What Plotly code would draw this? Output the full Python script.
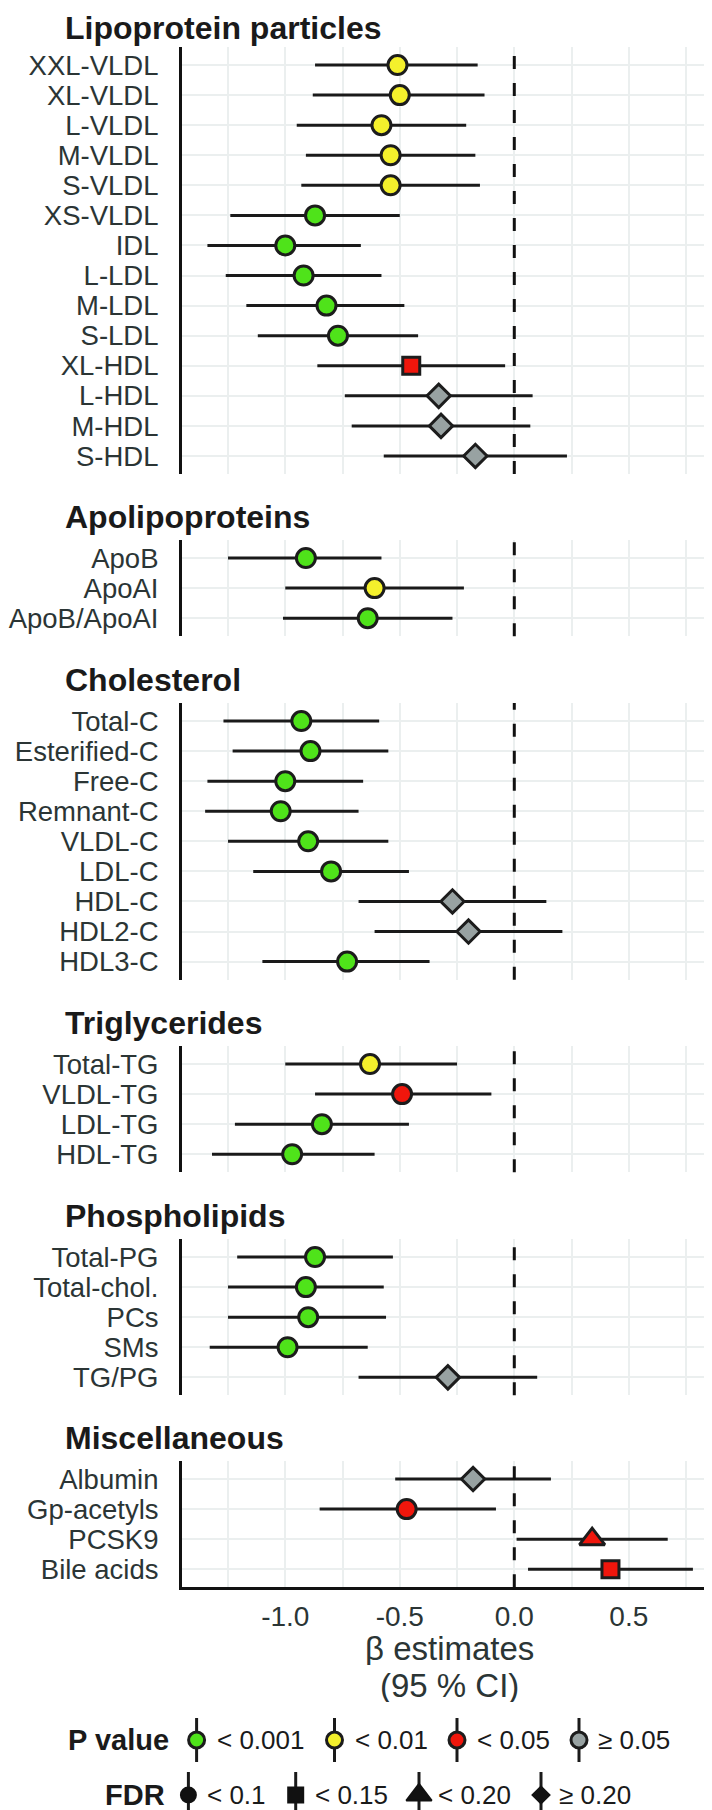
import plotly.graph_objects as go

W, H = 712, 1810

# ---------------- data ----------------
lipo_labels = ["XXL-VLDL", "XL-VLDL", "L-VLDL", "M-VLDL", "S-VLDL", "XS-VLDL", "IDL",
               "L-LDL", "M-LDL", "S-LDL", "XL-HDL", "L-HDL", "M-HDL", "S-HDL"]
lipo_beta = [-0.51, -0.50, -0.58, -0.54, -0.54, -0.87, -1.00, -0.92, -0.82, -0.77, -0.45, -0.33, -0.32, -0.17]
lipo_lo = [-0.87, -0.88, -0.95, -0.91, -0.93, -1.24, -1.34, -1.26, -1.17, -1.12, -0.86, -0.74, -0.71, -0.57]
lipo_hi = [-0.16, -0.13, -0.21, -0.17, -0.15, -0.50, -0.67, -0.58, -0.48, -0.42, -0.04, 0.08, 0.07, 0.23]
lipo_p = ["<0.01"] * 5 + ["<0.001"] * 5 + ["<0.05", ">=0.05", ">=0.05", ">=0.05"]
lipo_fdr = ["<0.1"] * 10 + ["<0.15", ">=0.20", ">=0.20", ">=0.20"]

apo_labels = ["ApoB", "ApoAI", "ApoB/ApoAI"]
apo_beta = [-0.91, -0.61, -0.64]
apo_lo = [-1.25, -1.00, -1.01]
apo_hi = [-0.58, -0.22, -0.27]
apo_p = ["<0.001", "<0.01", "<0.001"]
apo_fdr = ["<0.1", "<0.1", "<0.1"]

chol_labels = ["Total-C", "Esterified-C", "Free-C", "Remnant-C", "VLDL-C", "LDL-C",
               "HDL-C", "HDL2-C", "HDL3-C"]
chol_beta = [-0.93, -0.89, -1.00, -1.02, -0.90, -0.80, -0.27, -0.20, -0.73]
chol_lo = [-1.27, -1.23, -1.34, -1.35, -1.25, -1.14, -0.68, -0.61, -1.10]
chol_hi = [-0.59, -0.55, -0.66, -0.68, -0.55, -0.46, 0.14, 0.21, -0.37]
chol_p = ["<0.001"] * 6 + [">=0.05", ">=0.05", "<0.001"]
chol_fdr = ["<0.1"] * 6 + [">=0.20", ">=0.20", "<0.1"]

tg_labels = ["Total-TG", "VLDL-TG", "LDL-TG", "HDL-TG"]
tg_beta = [-0.63, -0.49, -0.84, -0.97]
tg_lo = [-1.00, -0.87, -1.22, -1.32]
tg_hi = [-0.25, -0.10, -0.46, -0.61]
tg_p = ["<0.01", "<0.05", "<0.001", "<0.001"]
tg_fdr = ["<0.1", "<0.1", "<0.1", "<0.1"]

pl_labels = ["Total-PG", "Total-chol.", "PCs", "SMs", "TG/PG"]
pl_beta = [-0.87, -0.91, -0.90, -0.99, -0.29]
pl_lo = [-1.21, -1.25, -1.25, -1.33, -0.68]
pl_hi = [-0.53, -0.57, -0.56, -0.64, 0.10]
pl_p = ["<0.001", "<0.001", "<0.001", "<0.001", ">=0.05"]
pl_fdr = ["<0.1", "<0.1", "<0.1", "<0.1", ">=0.20"]

misc_labels = ["Albumin", "Gp-acetyls", "PCSK9", "Bile acids"]
misc_beta = [-0.18, -0.47, 0.34, 0.42]
misc_lo = [-0.52, -0.85, 0.01, 0.06]
misc_hi = [0.16, -0.08, 0.67, 0.78]
misc_p = [">=0.05", "<0.05", "<0.05", "<0.05"]
misc_fdr = [">=0.20", "<0.1", "<0.20", "<0.15"]

panel_titles = ["Lipoprotein particles", "Apolipoproteins", "Cholesterol",
                "Triglycerides", "Phospholipids", "Miscellaneous"]

x_ticks = [-1.25, -1.0, -0.75, -0.5, -0.25, 0.0, 0.25, 0.5, 0.75]
x_tick_text = ["", "-1.0", "", "-0.5", "", "0.0", "", "0.5", ""]

p_levels = ["<0.001", "<0.01", "<0.05", ">=0.05"]
p_level_text = ["< 0.001", "< 0.01", "< 0.05", "≥ 0.05"]
fdr_levels = ["<0.1", "<0.15", "<0.20", ">=0.20"]
fdr_level_text = ["< 0.1", "< 0.15", "< 0.20", "≥ 0.20"]

# ---------------- styles ----------------
P_COLOR = {"<0.001": "#4fe31a", "<0.01": "#f4f02c", "<0.05": "#f0160c", ">=0.05": "#98a2a2"}
FDR_SYMBOL = {"<0.1": "circle", "<0.15": "square", "<0.20": "triangle-up", ">=0.20": "diamond"}
FDR_SIZE = {"<0.1": 19, "<0.15": 17, "<0.20": 22, ">=0.20": 18}
EDGE = "#1c1c1c"
GRID = "#ebefef"
LABEL_C = "#2b3535"
FONT = "Liberation Sans, Arial, sans-serif"

panels = [
    (lipo_labels, lipo_beta, lipo_lo, lipo_hi, lipo_p, lipo_fdr),
    (apo_labels, apo_beta, apo_lo, apo_hi, apo_p, apo_fdr),
    (chol_labels, chol_beta, chol_lo, chol_hi, chol_p, chol_fdr),
    (tg_labels, tg_beta, tg_lo, tg_hi, tg_p, tg_fdr),
    (pl_labels, pl_beta, pl_lo, pl_hi, pl_p, pl_fdr),
    (misc_labels, misc_beta, misc_lo, misc_hi, misc_p, misc_fdr),
]

panel_tops = [39, 532, 695, 1038, 1231, 1453]
ROW = 30.07
X0_PX, X1_PX = 174, 708.5
XRANGE = [-1.451, 0.883]

fig = go.Figure()
layout = dict(
    width=W, height=H, margin=dict(l=0, r=0, t=0, b=0),
    paper_bgcolor="white", plot_bgcolor="rgba(0,0,0,0)", showlegend=False,
    font=dict(family=FONT, color=LABEL_C),
)
shapes = []
annotations = []

# auxiliary pixel axis (first, so it sits underneath) for legend
fig.add_trace(go.Scatter(x=[], y=[], xaxis="x7", yaxis="y7", hoverinfo="skip"))

n_pan = len(panels)
for i, (labels, beta, lo, hi, pc, fc) in enumerate(panels):
    k = "" if i == 0 else str(i + 1)
    n = len(labels)
    top = panel_tops[i]
    bot = top + (n + 0.2) * ROW
    last = i == n_pan - 1
    fig.add_trace(go.Scatter(
        x=beta, y=labels, mode="markers", xaxis="x" + k, yaxis="y" + k,
        cliponaxis=False,
        error_x=dict(type="data", symmetric=False,
                     array=[h - b for h, b in zip(hi, beta)],
                     arrayminus=[b - l for b, l in zip(beta, lo)],
                     color="#1a1a1a", thickness=3, width=0),
        marker=dict(color=[P_COLOR[p] for p in pc],
                    symbol=[FDR_SYMBOL[f] for f in fc],
                    size=[FDR_SIZE[f] for f in fc], opacity=1,
                    line=dict(color=EDGE, width=3)),
    ))
    layout["xaxis" + k] = dict(
        domain=[X0_PX / W, X1_PX / W], range=XRANGE, anchor="y" + k,
        tickmode="array", tickvals=x_ticks, ticktext=x_tick_text,
        showticklabels=last, showgrid=True, gridcolor=GRID, gridwidth=2,
        zeroline=False, showline=last, linecolor="#111111", linewidth=3,
        ticks="", ticklen=0, tickfont=dict(size=28, color=LABEL_C, family=FONT),
        ticklabelstandoff=2, automargin=False,
    )
    layout["yaxis" + k] = dict(
        domain=[1 - bot / H, 1 - top / H], anchor="x" + k,
        type="category", categoryorder="array", categoryarray=labels,
        tickmode="array", tickvals=labels, ticktext=labels,
        range=[n - 1 + 0.6, -0.6],
        showgrid=True, gridcolor=GRID, gridwidth=2.2, zeroline=False,
        showline=True, linecolor="#111111", linewidth=3, ticks="", ticklen=0,
        tickfont=dict(size=27.5, color=LABEL_C, family=FONT),
        ticklabelstandoff=15, automargin=False,
    )
    shapes.append(dict(type="line", xref="x" + k, yref="y" + k + " domain",
                       x0=0, x1=0, y0=0, y1=1, layer="above",
                       line=dict(color="#111111", width=3, dash="13px,14px")))
    # panel title (first one nudged down so it stays inside the page)
    title_y = max(top - 23, 20)
    annotations.append(dict(text="<b>" + panel_titles[i] + "</b>", xref="paper", yref="paper",
                            x=55 / W, y=1 - title_y / H, xanchor="left", yanchor="middle",
                            showarrow=False, font=dict(size=32, color="#1a1a1a", family=FONT)))

layout["xaxis7"] = dict(domain=[0, 1], range=[0, W], visible=False, anchor="y7",
                        showgrid=False, zeroline=False)
layout["yaxis7"] = dict(domain=[0, 1], range=[H, 0], visible=False, anchor="x7",
                        showgrid=False, zeroline=False)

# x axis title
annotations.append(dict(text="β estimates", xref="x7", yref="y7", x=441, y=1640,
                        xanchor="center", yanchor="middle", showarrow=False, height=33,
                        font=dict(size=33, color=LABEL_C, family=FONT)))
annotations.append(dict(text="(95 % CI)", xref="x7", yref="y7", x=441, y=1677,
                        xanchor="center", yanchor="middle", showarrow=False, height=33,
                        font=dict(size=33, color=LABEL_C, family=FONT)))

# legend
P_ROW_Y, F_ROW_Y = 1732, 1787
p_key_x = [188.6, 326.5, 449, 571]
p_txt_x = [207, 345, 467, 588]
f_key_x = [180.4, 287.7, 411, 533]
f_txt_x = [197, 305, 428, 549]

annotations.append(dict(text="<b>P value</b>", xref="x7", yref="y7", x=163, y=P_ROW_Y,
                        xanchor="right", yanchor="middle", showarrow=False,
                        font=dict(size=29, color="#1a1a1a", family=FONT)))
annotations.append(dict(text="<b>FDR</b>", xref="x7", yref="y7", x=159, y=F_ROW_Y,
                        xanchor="right", yanchor="middle", showarrow=False,
                        font=dict(size=29, color="#1a1a1a", family=FONT)))

for lvl, txt, kx, tx in zip(p_levels, p_level_text, p_key_x, p_txt_x):
    fig.add_trace(go.Scatter(x=[kx, kx], y=[P_ROW_Y - 22, P_ROW_Y + 22], mode="lines",
                             xaxis="x7", yaxis="y7", line=dict(color="#1a1a1a", width=3),
                             hoverinfo="skip", cliponaxis=False))
    fig.add_trace(go.Scatter(x=[kx], y=[P_ROW_Y], mode="markers", xaxis="x7", yaxis="y7",
                             marker=dict(symbol="circle", size=16, color=P_COLOR[lvl], opacity=1,
                                         line=dict(color=EDGE, width=3)),
                             hoverinfo="skip", cliponaxis=False))
    annotations.append(dict(text=txt, xref="x7", yref="y7", x=tx, y=P_ROW_Y,
                            xanchor="left", yanchor="middle", showarrow=False,
                            font=dict(size=26, color="#1a1a1a", family=FONT)))

F_KEY_SIZE = {"<0.1": 15, "<0.15": 15, "<0.20": 22, ">=0.20": 13}
for lvl, txt, kx, tx in zip(fdr_levels, fdr_level_text, f_key_x, f_txt_x):
    fig.add_trace(go.Scatter(x=[kx, kx], y=[F_ROW_Y - 23, F_ROW_Y + 26], mode="lines",
                             xaxis="x7", yaxis="y7", line=dict(color="#1a1a1a", width=3),
                             hoverinfo="skip", cliponaxis=False))
    fig.add_trace(go.Scatter(x=[kx], y=[F_ROW_Y], mode="markers", xaxis="x7", yaxis="y7",
                             marker=dict(symbol=FDR_SYMBOL[lvl], size=F_KEY_SIZE[lvl], opacity=1,
                                         color="#111111", line=dict(color="#111111", width=2)),
                             hoverinfo="skip", cliponaxis=False))
    annotations.append(dict(text=txt, xref="x7", yref="y7", x=tx, y=F_ROW_Y,
                            xanchor="left", yanchor="middle", showarrow=False,
                            font=dict(size=26, color="#1a1a1a", family=FONT)))

layout["shapes"] = shapes
layout["annotations"] = annotations
fig.update_layout(**layout)
fig.write_html("out.html")
